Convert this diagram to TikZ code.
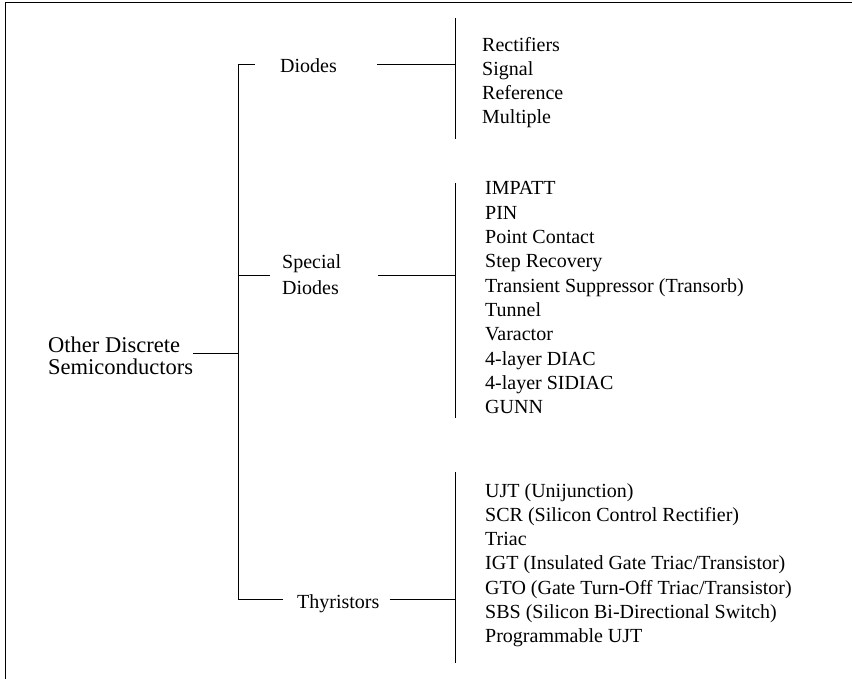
\documentclass[tikz,border=0pt]{standalone}
\usepackage{fontspec}
\setmainfont{Liberation Serif}
\begin{document}
\begin{tikzpicture}[x=1pt,y=-1pt,
  wire/.style={line width=1pt,black},
  item/.style={anchor=base west,inner sep=0pt,font=\fontsize{20}{24}\selectfont},
  branch/.style={inner sep=0pt,font=\fontsize{20}{26}\selectfont,align=left},
  rootlabel/.style={inner sep=0pt,font=\fontsize{22.5}{22}\selectfont,align=left}]
\useasboundingbox (0,0) rectangle (852,679);

% frame: top and left edges
\draw[wire] (852,3) -- (5,3) -- (5,679);

% root label
\node[rootlabel,anchor=west] (root) at (48,356) {Other Discrete\\Semiconductors};

% trunk junctions
\coordinate (tD) at (238,65);
\coordinate (tR) at (238,353);
\coordinate (tS) at (238,276);
\coordinate (tT) at (238,599);

% bracket junctions and ends
\coordinate (jD) at (455,65);  \coordinate (bDa) at (455,18);  \coordinate (bDb) at (455,139);
\coordinate (jS) at (455,276); \coordinate (bSa) at (455,183); \coordinate (bSb) at (455,418);
\coordinate (jT) at (455,599); \coordinate (bTa) at (455,472); \coordinate (bTb) at (455,663);

% branch labels
\node[branch,anchor=base west] (dio) at (280,73) {Diodes};
\node[branch,anchor=west] (spe) at (282,275) {Special\\Diodes};
\node[branch,anchor=base west] (thy) at (297,608) {Thyristors};

% trunk and root stub
\draw[wire] (tD) -- (tT);
\draw[wire] (root.east |- tR) -- (tR);

% branch connectors
\draw[wire] (tD) -- ([xshift=-25pt]dio.west |- tD);
\draw[wire] ([xshift=40pt]dio.east |- jD) -- (jD);
\draw[wire] (tS) -- ([xshift=-12pt]spe.west |- tS);
\draw[wire] ([xshift=37pt]spe.east |- jS) -- (jS);
\draw[wire] (tT) -- ([xshift=-14pt]thy.west |- tT);
\draw[wire] ([xshift=10pt]thy.east |- jT) -- (jT);

% brackets
\draw[wire] (bDa) -- (bDb);
\draw[wire] (bSa) -- (bSb);
\draw[wire] (bTa) -- (bTb);

% diode types
\foreach \t [count=\i from 0] in {Rectifiers,Signal,Reference,Multiple}
  \node[item] (d\i) at (482,52+23.7*\i) {\t};

% special diode types
\foreach \t [count=\i from 0] in {IMPATT,PIN,Point Contact,Step Recovery,
    Transient Suppressor (Transorb),Tunnel,Varactor,4-layer DIAC,4-layer SIDIAC,GUNN}
  \node[item] (s\i) at (485,195+24.3*\i) {\t};

% thyristor types
\foreach \t [count=\i from 0] in {UJT (Unijunction),SCR (Silicon Control Rectifier),Triac,
    IGT (Insulated Gate Triac/Transistor),GTO (Gate Turn-Off Triac/Transistor),
    SBS (Silicon Bi-Directional Switch),Programmable UJT}
  \node[item] (t\i) at (485,497+24.3*\i) {\t};
\end{tikzpicture}
\end{document}
